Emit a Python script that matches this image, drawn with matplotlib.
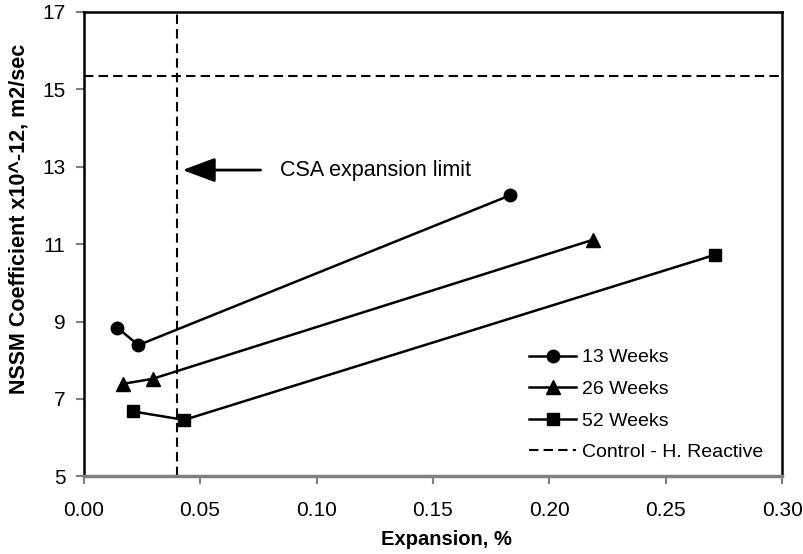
import matplotlib.pyplot as plt
import numpy as np

plt.rcParams['font.family'] = ['Liberation Sans', 'DejaVu Sans']

# data
exp_13 = [0.0145, 0.0235, 0.1832]
coef_13 = [8.84, 8.39, 12.26]
exp_26 = [0.0168, 0.0296, 0.2187]
coef_26 = [7.39, 7.52, 11.11]
exp_52 = [0.0210, 0.0432, 0.2710]
coef_52 = [6.68, 6.46, 10.72]
control_coef = 15.34
csa_limit = 0.040

x_ticks = [0.00, 0.05, 0.10, 0.15, 0.20, 0.25, 0.30]
y_ticks = [5, 7, 9, 11, 13, 15, 17]

fig = plt.figure(figsize=(8.04, 5.54), dpi=100)
ax = fig.add_axes([0.104, 0.140, 0.869, 0.839])

lw = 1.8
ax.plot(exp_13, coef_13, 'k-', marker='o', ms=9, lw=lw, label='13 Weeks')
ax.plot(exp_26, coef_26, 'k-', marker='^', ms=10, lw=lw, label='26 Weeks')
ax.plot(exp_52, coef_52, 'k-', marker='s', ms=9, lw=lw, label='52 Weeks')
ax.axhline(control_coef, color='k', lw=1.5, dashes=(4.5, 2.5),
           label='Control - H. Reactive')
ax.axvline(csa_limit, color='k', lw=1.5, dashes=(4.5, 2.5))

ax.annotate('', xy=(0.0425, 12.91), xytext=(0.076, 12.91),
            arrowprops=dict(arrowstyle='-|>,head_length=0.8,head_width=0.3',
                            color='k', lw=2, mutation_scale=25,
                            shrinkA=0, shrinkB=0))
ax.text(0.0845, 12.91, 'CSA expansion limit', fontsize=15.5, va='center', ha='left')

ax.set_xlim(0, 0.30)
ax.set_ylim(5, 17)
ax.set_xticks(x_ticks)
ax.set_xticklabels([f'{v:.2f}' for v in x_ticks])
ax.set_yticks(y_ticks)
ax.tick_params(axis='both', direction='out', length=6, width=1.5,
               color='#808080', labelsize=15)
ax.tick_params(axis='x', pad=12)
ax.tick_params(axis='y', pad=7)

for side in ['left', 'top', 'right']:
    ax.spines[side].set_color('k')
    ax.spines[side].set_linewidth(1.8)
ax.spines['bottom'].set_color('#808080')
ax.spines['bottom'].set_linewidth(2.5)

ax.set_xlabel('Expansion, %', fontsize=14.5, fontweight='bold')
ax.xaxis.set_label_coords(0.519, -0.115)
ax.set_ylabel('NSSM Coefficient x10^-12, m2/sec', fontsize=15.5,
              fontweight='bold')
ax.yaxis.set_label_coords(-0.078, 0.555)

ax.legend(loc='lower left', frameon=False, fontsize=14, handlelength=2.4,
          handletextpad=0.3, labelspacing=0.72, bbox_to_anchor=(0.613, -0.005))

fig.savefig('out.png', dpi=100)
